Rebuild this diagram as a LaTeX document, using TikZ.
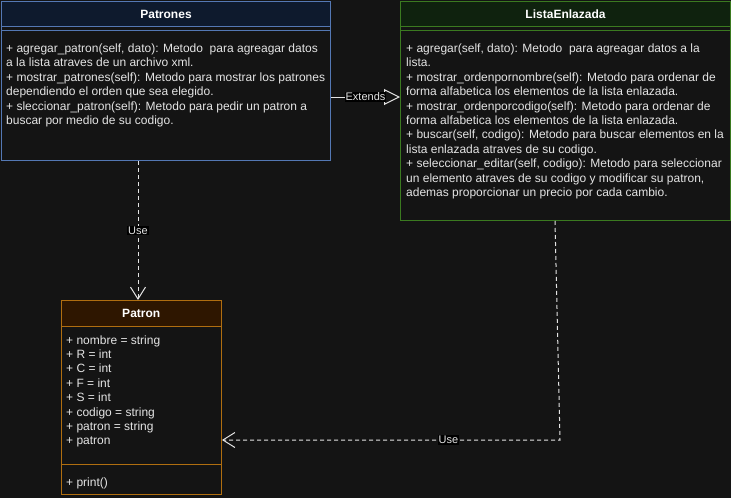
\documentclass[tikz,border=0pt]{standalone}
\usepackage{fontspec}
\setmainfont{Liberation Sans}
\usetikzlibrary{arrows.meta}

\definecolor{canvas}{HTML}{141414}
\definecolor{txtgrey}{HTML}{E4E4E4}
\definecolor{bluehd}{HTML}{0E1A2D}
\definecolor{bluebd}{HTML}{5478B4}
\definecolor{greenhd}{HTML}{0F220E}
\definecolor{greenbd}{HTML}{3B7A20}
\definecolor{brownhd}{HTML}{2E1600}
\definecolor{brownbd}{HTML}{B06E10}

\begin{document}
\begin{tikzpicture}[x = 1pt, y = -1pt,
	classbox/.style = {draw, line width = 1pt, anchor = north west, inner sep = 0pt},
	headbox/.style = {classbox, font = \fontsize{12}{14.4}\selectfont\bfseries, text = white},
	members/.style = {anchor = base west, align = left, inner sep = 0pt, font = \fontsize{12}{14.4}\selectfont, text = txtgrey},
	tag/.style = {fill = black, inner sep = 1pt, font = \fontsize{11}{13}\selectfont, text = txtgrey},
	uses/.style = {draw = txtgrey, line width = 1pt, dash pattern = on 4pt off 3pt, -{Straight Barb[length = 12pt, width = 15pt]}}]

	% The canvas

	\fill [canvas] (0, 0) rectangle (731, 498);
	\useasboundingbox (0, 0) rectangle (731, 498);

	% Patrones class (text placed by the baseline of its last line)

	\node [classbox, draw = bluebd, minimum width = 329, minimum height = 159] (patrones) at (1, 1) {};
	\node [headbox, draw = bluebd, fill = bluehd, minimum width = 329, minimum height = 25] (patronesHead) at (1, 1) {Patrones};
	\draw [bluebd, line width = 1pt] (patrones.west |- 0, 30) -- (patrones.east |- 0, 30);
	\node [members] (patronesOps) at (6, 124.5)
		{+ agregar\_patron(self, dato): Metodo\ \ para agreagar datos\\
		 a la lista atraves de un archivo xml.\\
		 + mostrar\_patrones(self): Metodo para mostrar los patrones\\
		 dependiendo el orden que sea elegido.\\
		 + sleccionar\_patron(self): Metodo para pedir un patron a\\
		 buscar por medio de su codigo.};

	% ListaEnlazada class

	\node [classbox, draw = greenbd, minimum width = 330, minimum height = 219] (lista) at (400, 1) {};
	\node [headbox, draw = greenbd, fill = greenhd, minimum width = 330, minimum height = 25] (listaHead) at (400, 1) {ListaEnlazada};
	\draw [greenbd, line width = 1pt] (lista.west |- 0, 30) -- (lista.east |- 0, 30);
	\node [members] (listaOps) at (406, 196.5)
		{+ agregar(self, dato): Metodo\ \ para agreagar datos a la\\
		 lista.\\
		 + mostrar\_ordenpornombre(self): Metodo para ordenar de\\
		 forma alfabetica los elementos de la lista enlazada.\\
		 + mostrar\_ordenporcodigo(self): Metodo para ordenar de\\
		 forma alfabetica los elementos de la lista enlazada.\\
		 + buscar(self, codigo): Metodo para buscar elementos en la\\
		 lista enlazada atraves de su codigo.\\
		 + seleccionar\_editar(self, codigo): Metodo para seleccionar\\
		 un elemento atraves de su codigo y modificar su patron,\\
		 ademas proporcionar un precio por cada cambio.};

	% Patron class

	\node [classbox, draw = brownbd, minimum width = 160.5, minimum height = 194] (patron) at (60.5, 300) {};
	\node [headbox, draw = brownbd, fill = brownhd, minimum width = 160.5, minimum height = 26] (patronHead) at (60.5, 300) {Patron};
	\draw [brownbd, line width = 1pt] (patron.west |- 0, 464) -- (patron.east |- 0, 464);
	\node [members] (patronAttrs) at (66, 444.8)
		{+ nombre = string\\
		 + R = int\\
		 + C = int\\
		 + F = int\\
		 + S = int\\
		 + codigo = string\\
		 + patron = string\\
		 + patron};
	\node [members] (patronOps) at (66, 486) {+ print()};

	% Relations

	\coordinate (useA) at (138, 0);
	\coordinate (useB) at (555, 0);
	\coordinate (useBend) at (560, 440);

	\draw [txtgrey, line width = 1pt, -{Triangle[open, length = 16pt, width = 16pt]}]
		(patrones.east |- 0, 97) -- node [tag] {Extends} (lista.west |- 0, 97);

	\draw [uses] (patrones.south -| useA) -- node [tag] {Use} (patron.north -| useA);

	\draw [uses] (lista.south -| useB) -- (useBend) -- node [tag, pos = 0.33] {Use} (patron.east |- useBend);

\end{tikzpicture}
\end{document}
